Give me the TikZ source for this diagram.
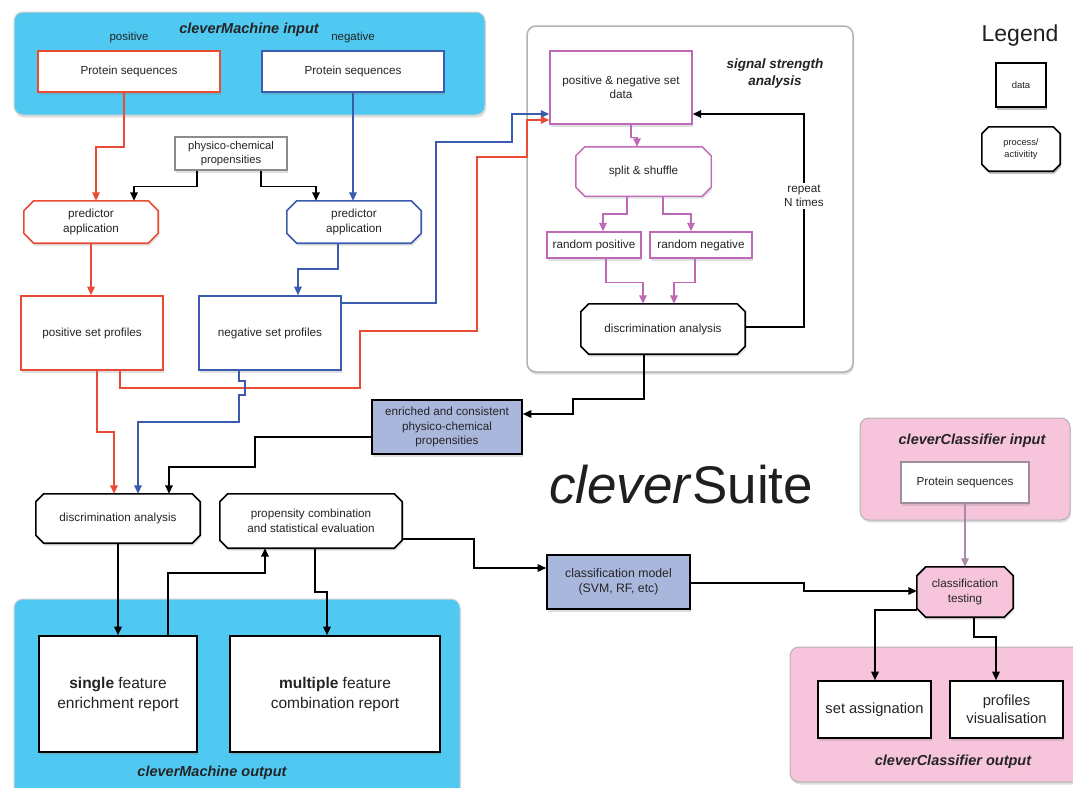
\documentclass[tikz,border=0pt]{standalone}
\usepackage{fontspec}
\setmainfont{Liberation Sans}
\usetikzlibrary{arrows.meta,shadows,calc}
\definecolor{cmblue}{HTML}{4FC9F2}
\definecolor{myred}{HTML}{E94B35}
\definecolor{myblue}{HTML}{3B5BAF}
\definecolor{mymag}{HTML}{C069B6}
\definecolor{peri}{HTML}{AAB7DD}
\definecolor{mypink}{HTML}{F7C5DB}
\definecolor{mauve}{HTML}{A98BA8}
\definecolor{mauvegray}{HTML}{9E8E9C}
\definecolor{txt}{HTML}{242424}
\pgfdeclarelayer{bg}\pgfdeclarelayer{mid}\pgfsetlayers{bg,mid,main}
\newcommand\myfs[2]{\fontsize{#1}{#2}\selectfont}
\newcommand\octshape[3]{%
  \begin{pgfonlayer}{mid}
  \path[#3] ([xshift=#2]#1.north west) -- ([xshift=-#2]#1.north east) -- ([yshift=-#2]#1.north east) -- ([yshift=#2]#1.south east) -- ([xshift=-#2]#1.south east) -- ([xshift=#2]#1.south west) -- ([yshift=#2]#1.south west) -- ([yshift=-#2]#1.north west) -- cycle;
  \end{pgfonlayer}}
\begin{document}
\begin{tikzpicture}[x=1pt,y=-1pt,
  every node/.style={text=txt},
  shadowed/.style={drop shadow={shadow xshift=1pt,shadow yshift=-2.5pt,opacity=0.25}},
  wh/.style 2 args={minimum width=#1pt,minimum height=#2pt},
  std/.style={font=\myfs{11.7}{14.5}},
  box/.style={draw,fill=white,line width=1.6pt,inner sep=0pt,align=center,std,shadowed},
  octnode/.style={inner sep=0pt,align=center,std},
  octpath/.style={line width=1.6pt,fill=white,shadowed},
  panel/.style={rounded corners=9pt,line width=1pt,shadowed},
  ptitle/.style={font=\myfs{14.5}{17}\bfseries\itshape},
  conn/.style={line width=1.5pt,-{Triangle[length=8.5pt,width=7.5pt]}},
  redc/.style={conn,draw=myred,color=myred},
  bluec/.style={conn,draw=myblue,color=myblue},
  magc/.style={conn,draw=mymag,color=mymag},
  blkc/.style={conn,draw=black,color=black},
  mauvec/.style={conn,draw=mauve,color=mauve}]
\useasboundingbox (0,0) rectangle (1073,787);

% ---------- panels ----------
\begin{pgfonlayer}{bg}
\path[panel,fill=cmblue,draw=black!18] (14,12) rectangle (485,115);
\path[panel,fill=white,draw=black!30,line width=1.5pt] (527,26) rectangle (853,372);
\path[panel,fill=cmblue,draw=black!18] (14,599) rectangle (460,800);
\path[panel,fill=mypink,draw=black!30] (860,418) rectangle (1070,520);
\path[panel,fill=mypink,draw=black!30] (790,647) rectangle (1085,782);
\end{pgfonlayer}

% ---------- titles ----------
\node[ptitle] (cmin) at (249,30) {cleverMachine input};
\node[font=\myfs{11.5}{14}] (poslbl) at (129,38) {positive};
\node[font=\myfs{11.5}{14}] (neglbl) at (353,38) {negative};
\node[ptitle,font=\myfs{13.5}{17}\bfseries\itshape,align=center] (sigtitle) at (775,74) {signal strength\\analysis};
\node[ptitle] (cmout) at (212,773) {cleverMachine output};
\node[ptitle] (ccin) at (972,441) {cleverClassifier input};
\node[ptitle] (ccout) at (953,762) {cleverClassifier output};
\node[font=\myfs{53}{60},anchor=base,text=black!88] (suite) at (681,503) {\textit{clever}Suite};
\node[font=\myfs{23}{26},text=black!88] (legend) at (1020,36) {Legend};

% ---------- data boxes ----------
\node[box,draw=myred,wh={182}{41}] (posSeq) at (129,71.5) {Protein sequences};
\node[box,draw=myblue,wh={182}{41}] (negSeq) at (353,71.5) {Protein sequences};
\node[box,draw=black!45,line width=1.4pt,wh={112}{33},font=\myfs{11.2}{14}] (physico) at (231,153.5) {physico-chemical\\propensities};
\node[box,draw=myred,wh={142}{74}] (posProf) at (92,333) {positive set profiles};
\node[box,draw=myblue,wh={142}{74}] (negProf) at (270,333) {negative set profiles};
\node[box,draw=mymag,line width=1.4pt,wh={142}{73}] (setData) at (621,87.5) {positive \& negative set\\data};
\node[box,draw=mymag,line width=1.4pt,wh={94}{26}] (randPos) at (594,245) {random positive};
\node[box,draw=mymag,line width=1.4pt,wh={102}{26}] (randNeg) at (701,245) {random negative};
\node[box,fill=peri,wh={150}{54}] (enriched) at (447,427) {enriched and consistent\\physico-chemical\\propensities};
\node[box,wh={158}{116},font=\myfs{15.5}{20}] (single) at (118,694) {\textbf{single} feature\\enrichment report};
\node[box,wh={210}{116},font=\myfs{15.5}{20}] (multiple) at (335,694) {\textbf{multiple} feature\\combination report};
\node[box,fill=peri,wh={143}{54},font=\myfs{12.3}{15.5}] (classModel) at (618.5,582) {classification model\\(SVM, RF, etc)};
\node[box,draw=mauvegray,line width=1.4pt,wh={128}{41}] (ccSeq) at (965,482.5) {Protein sequences};
\node[box,wh={113}{57},font=\myfs{14.7}{18}] (setAssign) at (874.5,709.5) {set assignation};
\node[box,wh={113}{57},font=\myfs{14.7}{18}] (profVis) at (1006.5,709.5) {profiles\\visualisation};
\node[box,line width=1.6pt,wh={50}{44},font=\myfs{9.5}{12},drop shadow={shadow xshift=1pt,shadow yshift=-3pt,opacity=0.35}] (legData) at (1021,85) {data};

% ---------- process (octagon) nodes ----------
\node[octnode,wh={134}{42}] (predL) at (91,222) {predictor\\application};
\octshape{predL}{10pt}{octpath,draw=myred}
\node[octnode,wh={134}{42}] (predR) at (354,222) {predictor\\application};
\octshape{predR}{10pt}{octpath,draw=myblue}
\node[octnode,wh={135}{49}] (split) at (643.5,171.5) {split \& shuffle};
\octshape{split}{9pt}{octpath,draw=mymag,line width=1.4pt}
\node[octnode,wh={164}{50}] (disc1) at (663,329) {discrimination analysis};
\octshape{disc1}{8pt}{octpath,draw=black}
\node[octnode,wh={164}{49}] (disc2) at (118,518.5) {discrimination analysis};
\octshape{disc2}{8pt}{octpath,draw=black}
\node[octnode,wh={182}{54}] (propComb) at (311,521) {propensity combination\\and statistical evaluation};
\octshape{propComb}{8pt}{octpath,draw=black}
\node[octnode,wh={96}{50}] (testing) at (965,592) {classification\\testing};
\octshape{testing}{9pt}{octpath,draw=black,fill=mypink}
\node[octnode,wh={78}{44},font=\myfs{9.3}{12}] (legProc) at (1021,149) {process/\\activitity};
\octshape{legProc}{7pt}{octpath,draw=black,drop shadow={shadow xshift=1pt,shadow yshift=-3pt,opacity=0.35}}

% ---------- connectors ----------
\draw[redc] ([xshift=-5pt]posSeq.south) -- ++(0,54) -| ([xshift=5pt]predL.north);
\draw[bluec] (negSeq.south) -- (negSeq.south |- predR.north);
\draw[blkc] ([xshift=-34pt]physico.south) -- ++(0,16) -| ([xshift=43pt]predL.north);
\draw[blkc] ([xshift=30pt]physico.south) -- ++(0,16) -| ([xshift=-38pt]predR.north);
\draw[redc] (predL.south) -- (predL.south |- posProf.north);
\draw[bluec] ([xshift=-16pt]predR.south) -- ++(0,26) -| ([xshift=28pt]negProf.north);
\draw[bluec] ([yshift=30pt]negProf.east) -| (436,142) -| (512,114) -- ([yshift=-26.5pt]setData.west);
\draw[redc] ([xshift=28pt]posProf.south) -- (120,388) -| (360,331) -| (477,157) -| (527,120) -- ([yshift=-32.5pt]setData.west);
\draw[redc] ([xshift=5pt]posProf.south) -- (97,432) -| ([xshift=-4pt]disc2.north);
\draw[bluec] ([xshift=-31pt]negProf.south) -- ++(0,10) -- ++(6,0) -- ++(0,14) -- ++(-6,0) -- ++(0,27) -| ([xshift=20pt]disc2.north);
\draw[blkc] ([yshift=-10pt]enriched.west) -| (255,467) -| ([xshift=51pt]disc2.north);
\draw[blkc] ([xshift=-19pt]disc1.south) -- (644,399) -| (573,414) -- ([yshift=13pt]enriched.east);
\draw[magc] ([xshift=10pt]setData.south) -- ++(0,13) -| ([xshift=-6.5pt]split.north);
\draw[magc] ([xshift=-16.5pt]split.south) -- ++(0,18) -| ([xshift=9pt]randPos.north);
\draw[magc] ([xshift=19.5pt]split.south) -- ++(0,18) -| ([xshift=-10pt]randNeg.north);
\draw[magc] ([xshift=12pt]randPos.south) -- ++(0,24) -| ([xshift=-20pt]disc1.north);
\draw[magc] ([xshift=-6pt]randNeg.south) -- ++(0,24) -| ([xshift=11pt]disc1.north);
\draw[blkc] ([yshift=2pt]disc1.east) -| (804,114) -- ([yshift=-26.5pt]setData.east);
\node[std,fill=white,inner sep=1.5pt,align=center] (repeat) at (804,196) {repeat\\N times};
\draw[blkc] (disc2.south) -- (single.north);
\draw[blkc] ([xshift=50pt]single.north) -- ++(0,-62) -| ([xshift=-46pt]propComb.south);
\draw[blkc] ([xshift=4pt]propComb.south) -- ++(0,44) -| ([xshift=-8pt]multiple.north);
\draw[blkc] ([yshift=-18pt]propComb.east) -| (474,568) -- ([yshift=14pt]classModel.west);
\draw[blkc] ([yshift=-1pt]classModel.east) -| (804,591) -- ([yshift=1pt]testing.west);
\draw[mauvec] (ccSeq.south) -- (testing.north);
\draw[blkc] ([yshift=-18pt]testing.west) -| ([xshift=0.5pt]setAssign.north);
\draw[blkc] ([xshift=9pt]testing.south) -- ++(0,20) -| ([xshift=-10.5pt]profVis.north);
\end{tikzpicture}
\end{document}
